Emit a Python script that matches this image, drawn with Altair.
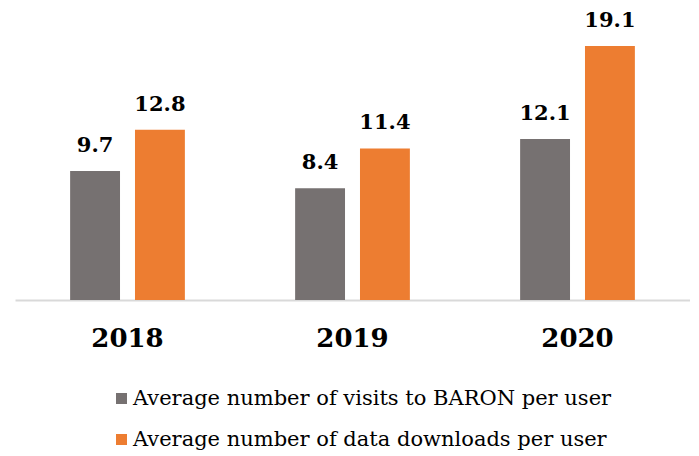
import altair as alt
import pandas as pd

years = ["2018", "2019", "2020"]
series = ["Average number of visits to BARON per user",
          "Average number of data downloads per user"]
visits = [9.7, 8.4, 12.1]
downloads = [12.8, 11.4, 19.1]
colors = ["#767171", "#ED7D31"]

rows = []
for i, y in enumerate(years):
    rows.append({"year": y, "series": series[0], "value": visits[i], "label": f"{visits[i]:.1f}"})
    rows.append({"year": y, "series": series[1], "value": downloads[i], "label": f"{downloads[i]:.1f}"})
df = pd.DataFrame(rows)

serif = "DejaVu Serif"

x = alt.X("year:N", sort=years, title=None,
          scale=alt.Scale(paddingInner=0.49, paddingOuter=0.245),
          axis=alt.Axis(labelAngle=0, labelFont=serif, labelFontWeight="bold",
                        labelFontSize=26, labelColor="#000000", labelPadding=25,
                        ticks=False, domainColor="#d9d9d9", domainWidth=2))
xo = alt.XOffset("series:N", sort=series,
                 scale=alt.Scale(paddingInner=0.2308, paddingOuter=0))
y = alt.Y("value:Q", scale=alt.Scale(domain=[0, 20]), axis=None)

bars = alt.Chart(df).mark_bar().encode(
    x=x, xOffset=xo, y=y,
    color=alt.Color("series:N", sort=series,
                    scale=alt.Scale(domain=series, range=colors),
                    legend=alt.Legend(title=None, orient="none", legendX=96, legendY=354,
                                      direction="vertical", symbolType="square",
                                      symbolSize=121, symbolStrokeWidth=0,
                                      labelFont=serif, labelFontSize=21,
                                      labelColor="#000000", rowPadding=19,
                                      labelOffset=1, labelLimit=650)),
)

labels = alt.Chart(df).mark_text(baseline="bottom", dy=-15, font=serif,
                                 fontWeight="bold", fontSize=21, color="#000000").encode(
    x=x, xOffset=xo, y=y, text="label:N"
)

chart = alt.layer(bars, labels).properties(
    width=675, height=266,
    autosize=alt.AutoSizeParams(type="none"),
    padding={"left": 7, "top": 26, "right": 0, "bottom": 150},
).configure_view(stroke=None)

chart.save("out.html", embed_options={"renderer": "svg", "actions": False})
